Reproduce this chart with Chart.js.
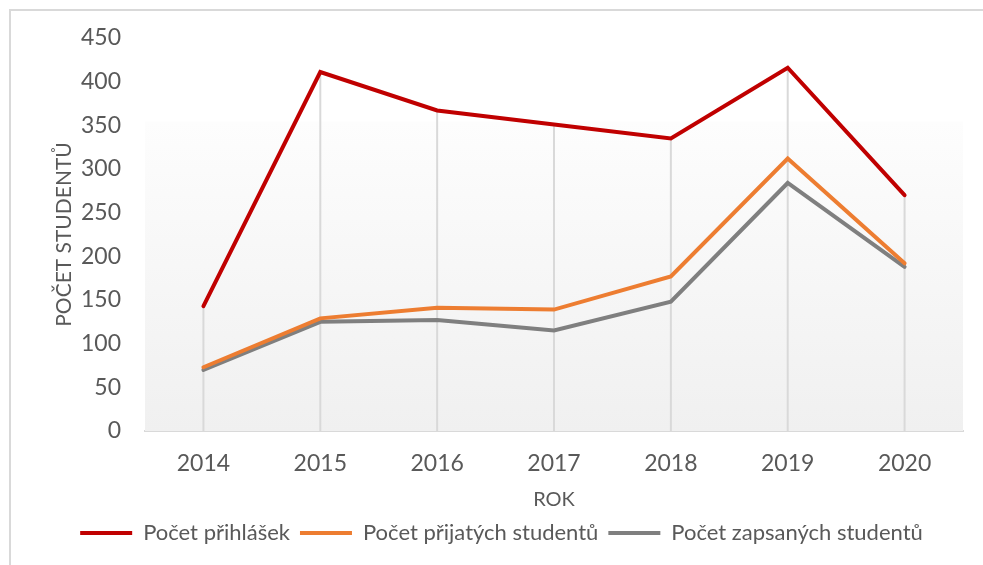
<!DOCTYPE html>
<html lang="cs">
<head>
    <meta charset="UTF-8">
    <title>Počet studentů</title>
    <script src="https://cdn.jsdelivr.net/npm/chart.js"></script>
    <style>
        html, body {
            margin: 0;
            padding: 0;
            background: #ffffff;
            overflow: hidden;
        }
        .frame {
            position: absolute;
            left: 9px;
            top: 9px;
            width: 990px;
            height: 580px;
            border: 2px solid #d9d9d9;
        }
        .wrap {
            position: absolute;
            left: 0;
            top: 0;
            width: 983px;
            height: 565px;
        }
    </style>
</head>
<body>
    <div class="frame"></div>
    <div class="wrap">
        <canvas id="studentsChart"></canvas>
    </div>

    <script>
        // data
        const years = ['2014', '2015', '2016', '2017', '2018', '2019', '2020'];
        const prihlasky = [143, 411, 367, 351, 335, 416, 270];
        const prijati = [73, 129, 141, 139, 177, 312, 192];
        const zapsani = [70, 125, 127, 115, 148, 284, 188];

        const textColor = '#595959';
        const fontFamily = 'Lato, "Open Sans", sans-serif';

        // gradient background of the plot area + drop lines from the top point
        const plotDecor = {
            id: 'plotDecor',
            beforeDatasetsDraw(chart) {
                const { ctx, chartArea } = chart;
                const h = chartArea.bottom - chartArea.top;
                const g = ctx.createLinearGradient(0, chartArea.top, 0, chartArea.bottom);
                g.addColorStop(0, '#ffffff');
                g.addColorStop(0.21, '#ffffff');
                g.addColorStop(0.215, '#fdfdfd');
                g.addColorStop(1, '#f0f0f0');
                ctx.save();
                ctx.fillStyle = g;
                ctx.fillRect(chartArea.left, chartArea.top + h * 0.21,
                    chartArea.right - chartArea.left, h * 0.79);

                ctx.strokeStyle = '#d9d9d9';
                ctx.lineWidth = 2;
                const metas = chart.getSortedVisibleDatasetMetas();
                years.forEach((y, i) => {
                    let top = chartArea.bottom;
                    let x = null;
                    metas.forEach(m => {
                        const pt = m.data[i];
                        if (pt) {
                            top = Math.min(top, pt.y);
                            x = pt.x;
                        }
                    });
                    if (x !== null) {
                        ctx.beginPath();
                        ctx.moveTo(x, top);
                        ctx.lineTo(x, chartArea.bottom);
                        ctx.stroke();
                    }
                });
                ctx.restore();
            }
        };

        function lineSet(label, data, color) {
            return {
                label: label,
                data: data,
                borderColor: color,
                backgroundColor: color,
                borderWidth: 4,
                pointRadius: 0,
                pointStyle: 'line',
                tension: 0,
                borderCapStyle: 'round',
                borderJoinStyle: 'miter'
            };
        }

        const ctx = document.getElementById('studentsChart').getContext('2d');
        new Chart(ctx, {
            type: 'line',
            data: {
                labels: years,
                datasets: [
                    lineSet('Počet přihlášek', prihlasky, '#c00000'),
                    lineSet('Počet přijatých studentů', prijati, '#ed7d31'),
                    lineSet('Počet zapsaných studentů', zapsani, '#7f7f7f')
                ]
            },
            plugins: [plotDecor],
            options: {
                responsive: true,
                maintainAspectRatio: false,
                animation: false,
                layout: {
                    padding: { left: 40, right: 20, top: 38, bottom: 11 }
                },
                plugins: {
                    tooltip: { enabled: false },
                    legend: {
                        position: 'bottom',
                        labels: {
                            color: textColor,
                            font: { family: fontFamily, size: 22 },
                            usePointStyle: true,
                            pointStyle: 'line',
                            pointStyleWidth: 52,
                            boxHeight: 4,
                            padding: 10
                        }
                    }
                },
                scales: {
                    x: {
                        offset: true,
                        grid: { display: false },
                        border: { display: true, color: '#d9d9d9', width: 2 },
                        ticks: {
                            color: textColor,
                            font: { family: fontFamily, size: 23 },
                            padding: 11
                        },
                        title: {
                            display: true,
                            text: 'ROK',
                            color: textColor,
                            font: { family: fontFamily, size: 20 },
                            padding: { top: 0, bottom: 0 }
                        },
                        afterFit(scale) {
                            scale.height = 81;
                        }
                    },
                    y: {
                        min: 0,
                        max: 450,
                        grid: { display: false },
                        border: { display: false },
                        ticks: {
                            stepSize: 50,
                            color: textColor,
                            font: { family: fontFamily, size: 23 },
                            padding: 16
                        },
                        title: {
                            display: true,
                            text: 'POČET STUDENTŮ',
                            color: textColor,
                            font: { family: fontFamily, size: 21 },
                            padding: { top: 12, bottom: 0 }
                        },
                        afterFit(scale) {
                            scale.width = 105;
                        }
                    }
                }
            }
        });
    </script>
</body>
</html>
